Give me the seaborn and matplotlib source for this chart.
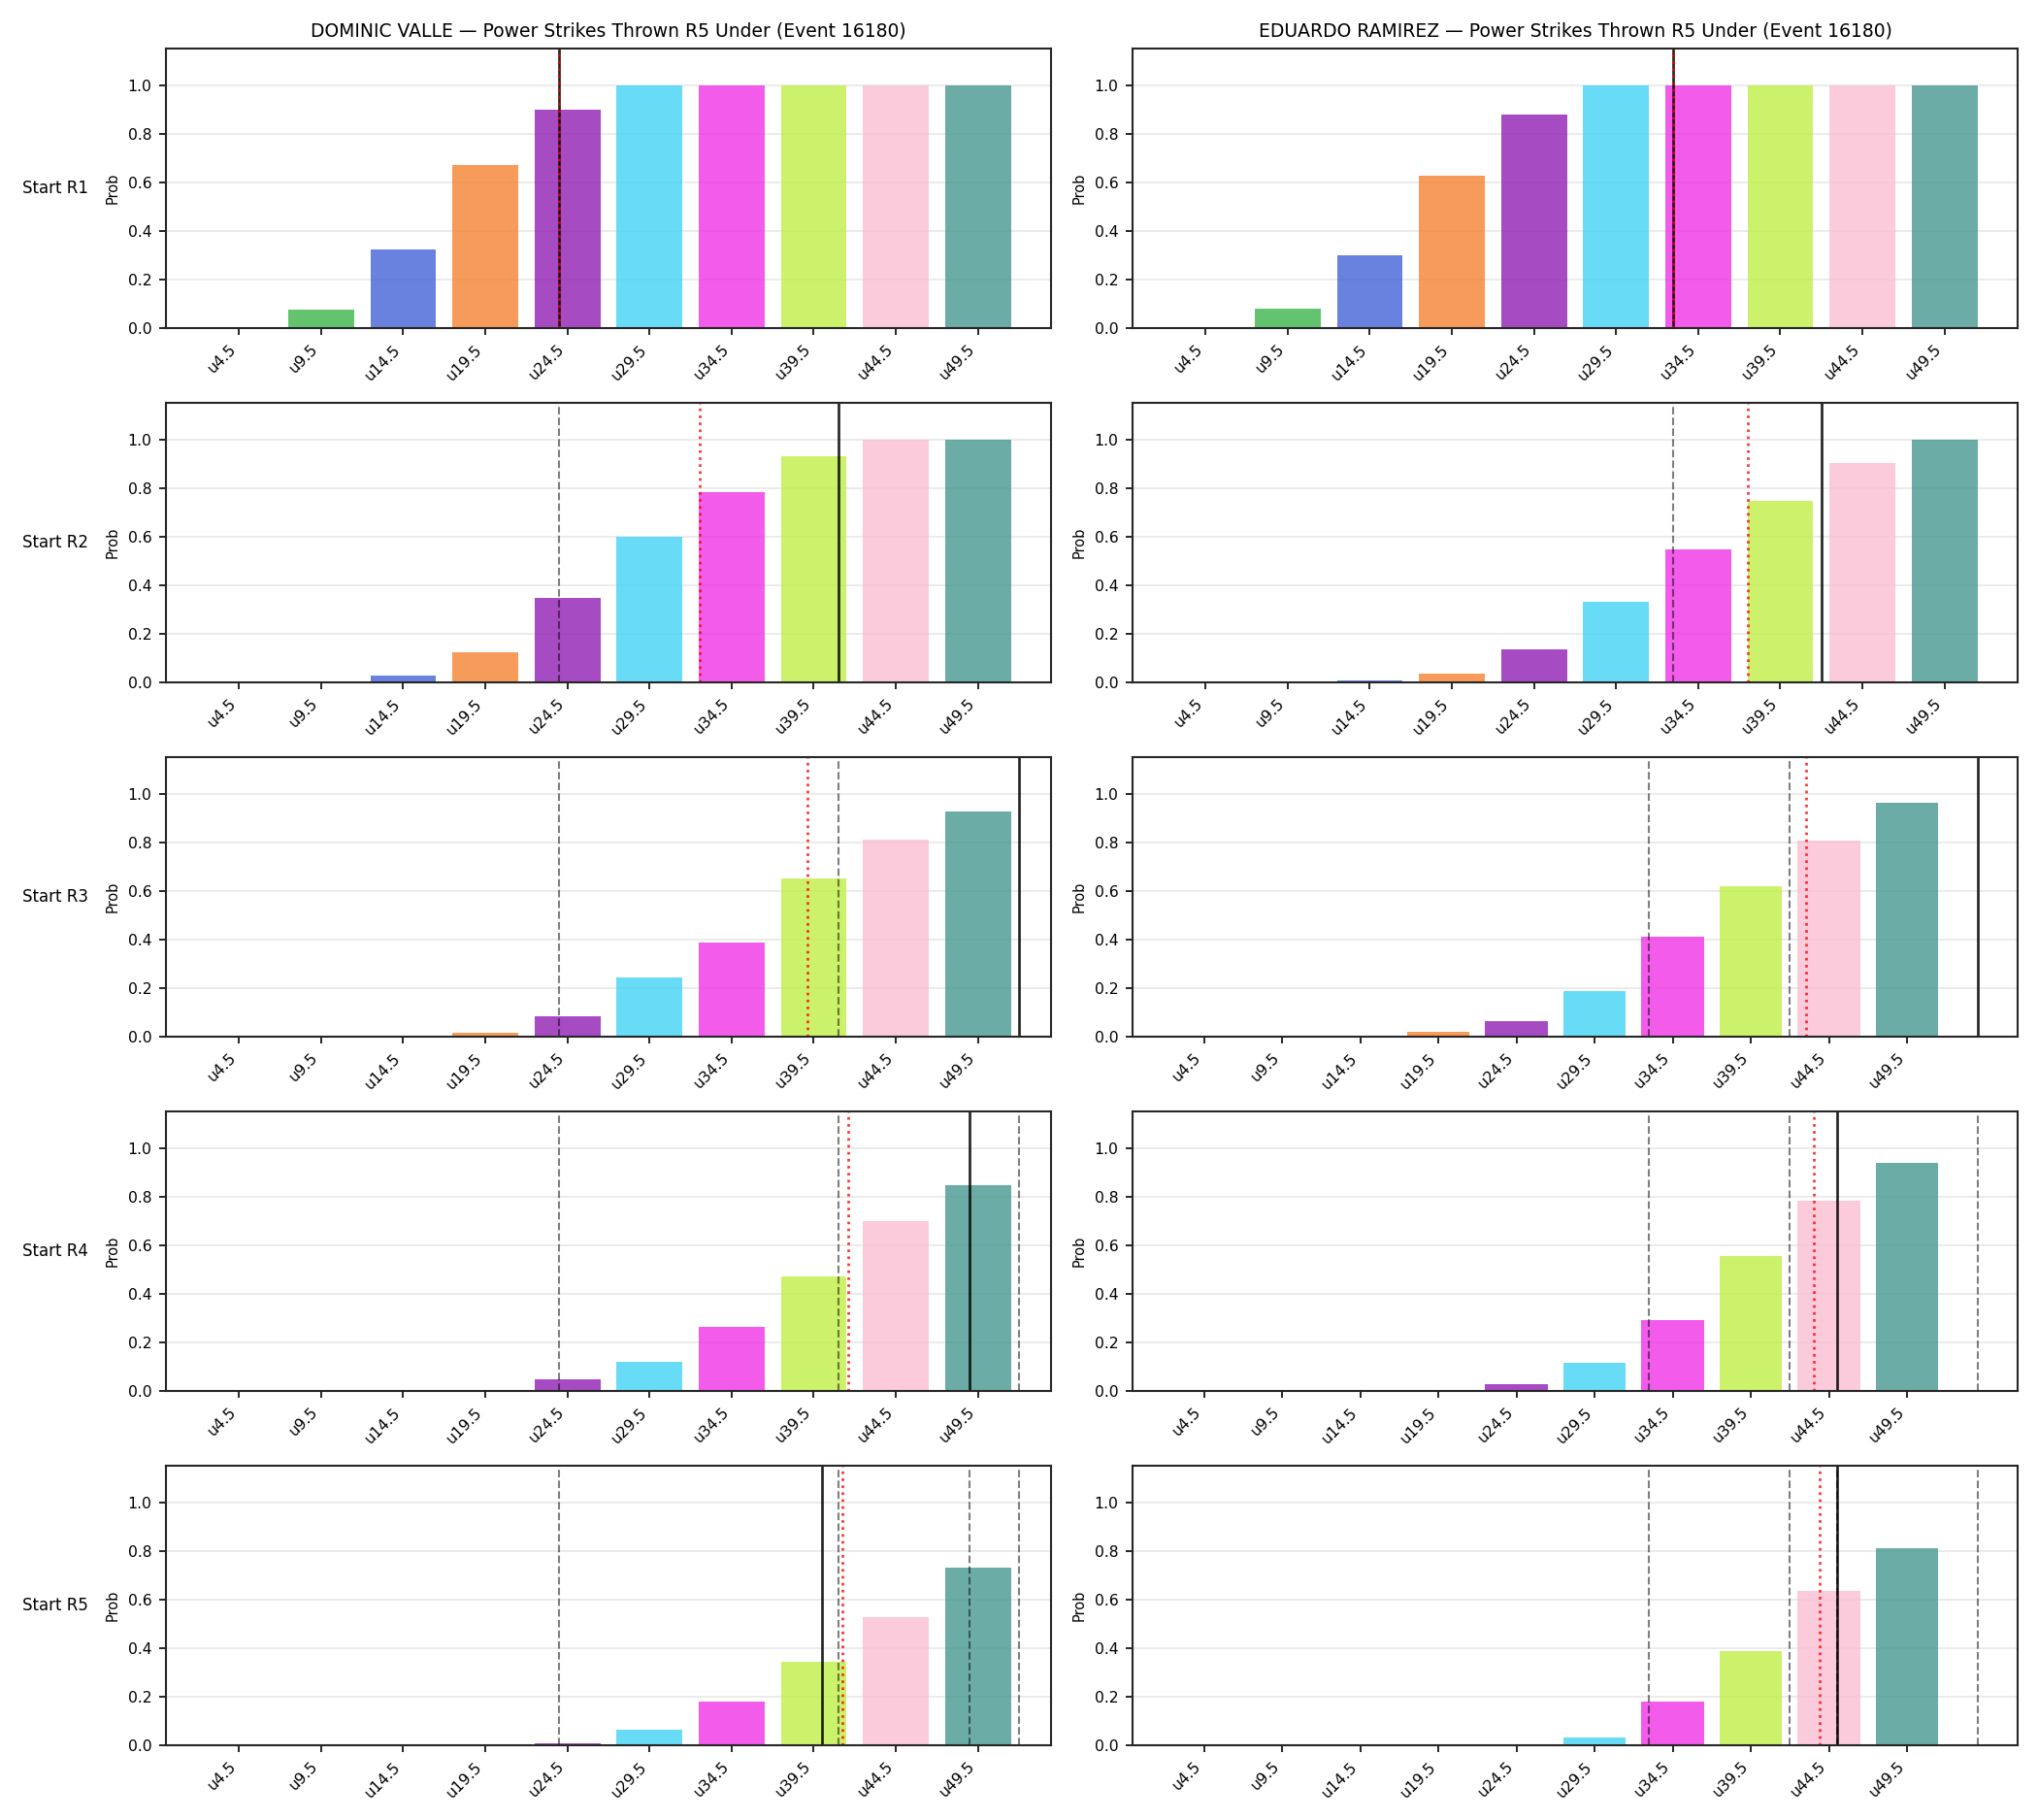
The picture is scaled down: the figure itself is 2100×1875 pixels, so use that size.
import matplotlib
matplotlib.use("Agg")
import matplotlib.pyplot as plt
import seaborn as sns

# --- data ---
fighters = ["DOMINIC VALLE", "EDUARDO RAMIREZ"]
market = "Power Strikes Thrown R5 Under"
event_id = 16180
rounds = ["R1", "R2", "R3", "R4", "R5"]
lines = ["u4.5", "u9.5", "u14.5", "u19.5", "u24.5",
         "u29.5", "u34.5", "u39.5", "u44.5", "u49.5"]
colors = ["#e6194b", "#3cb44b", "#4363d8", "#f58231", "#911eb4",
          "#42d4f4", "#f032e6", "#bfef45", "#fabed4", "#469990"]

# P(under) for each line, by the round the sim starts from
valle_probs = [
    [0.003, 0.075, 0.321, 0.672, 0.897, 0.997, 0.997, 0.997, 0.997, 0.997],
    [0.0, 0.0005, 0.027, 0.123, 0.348, 0.599, 0.781, 0.929, 0.997, 0.997],
    [0.0, 0.0, 0.0005, 0.016, 0.084, 0.241, 0.388, 0.652, 0.809, 0.925],
    [0.0, 0.0, 0.0, 0.002, 0.047, 0.119, 0.263, 0.469, 0.700, 0.848],
    [0.0, 0.0, 0.0, 0.0003, 0.007, 0.063, 0.179, 0.344, 0.528, 0.729],
]
ramirez_probs = [
    [0.0005, 0.079, 0.297, 0.626, 0.878, 0.997, 0.997, 0.997, 0.997, 0.997],
    [0.0, 0.0, 0.007, 0.036, 0.136, 0.332, 0.545, 0.745, 0.901, 0.997],
    [0.0, 0.0, 0.0005, 0.019, 0.063, 0.187, 0.412, 0.620, 0.805, 0.961],
    [0.0, 0.0, 0.0, 0.002, 0.028, 0.115, 0.291, 0.555, 0.784, 0.940],
    [0.0, 0.0, 0.0, 0.0, 0.0005, 0.031, 0.179, 0.388, 0.636, 0.809],
]

# strike counts marked with vertical lines (solid = this round, dashed = earlier rounds)
valle_actual = [24, 41, 52, 49, 40]
ramirez_actual = [33, 42, 54, 45, 45]
# red dotted = sim mean
valle_mean = [24.0, 32.55, 39.1, 41.6, 41.25]
ramirez_mean = [33.0, 37.5, 43.05, 43.55, 43.9]

probs = [valle_probs, ramirez_probs]
actuals = [valle_actual, ramirez_actual]
means = [valle_mean, ramirez_mean]

thresholds = [float(s[1:]) for s in lines]
step = thresholds[1] - thresholds[0]


def to_pos(v):
    # strike count -> position on the categorical axis
    return (v - thresholds[0]) / step


fig, axes = plt.subplots(5, 2, figsize=(14, 12.5), dpi=150)
fig.subplots_adjust(left=0.0814, right=0.99, top=0.9733, bottom=0.0412,
                    wspace=0.092, hspace=0.269)

for c in range(2):
    for r in range(5):
        ax = axes[r, c]
        sns.barplot(x=lines, y=probs[c][r], hue=lines, palette=colors,
                    order=lines, hue_order=lines, legend=False,
                    saturation=1, alpha=0.8, linewidth=0, ax=ax)

        marks = []
        for k in range(r):
            p = to_pos(actuals[c][k])
            ax.axvline(p, color="k", ls="--", lw=1.0, alpha=0.5)
            marks.append(p)
        p = to_pos(actuals[c][r])
        ax.axvline(p, color="k", lw=1.3, alpha=0.85)
        marks.append(p)
        p = to_pos(means[c][r])
        ax.axvline(p, color="red", ls=":", lw=1.3, alpha=0.8)
        marks.append(p)

        # same limits matplotlib would pick for the bars, widened only if a line falls outside
        lo, hi = -0.4, len(lines) - 1 + 0.4
        pad = 0.05 * (hi - lo)
        if max(marks) > hi + pad:
            hi = max(marks)
            pad = 0.05 * (hi - lo)
        ax.set_xlim(lo - pad, hi + pad)

        ax.set_ylim(0, 1.15)
        ax.set_yticks([0, 0.2, 0.4, 0.6, 0.8, 1.0])
        ax.set_axisbelow(True)
        ax.grid(axis="y", alpha=0.3)
        ax.set_xlabel("")
        ax.set_ylabel("Prob", fontsize=7)
        ax.tick_params(labelsize=7.5)
        ax.set_xticks(range(len(lines)))
        ax.set_xticklabels(lines, rotation=45, ha="right")
        for s in ax.spines.values():
            s.set_visible(True)
            s.set_color("#262626")
            s.set_linewidth(1.0)

        if r == 0:
            ax.set_title(f"{fighters[c]} \u2014 {market} (Event {event_id})", fontsize=9)
        if c == 0:
            ax.text(-0.088, 0.5, f"Start {rounds[r]}", transform=ax.transAxes,
                    ha="right", va="center", fontsize=8)

fig.savefig("out.png", dpi=150)
